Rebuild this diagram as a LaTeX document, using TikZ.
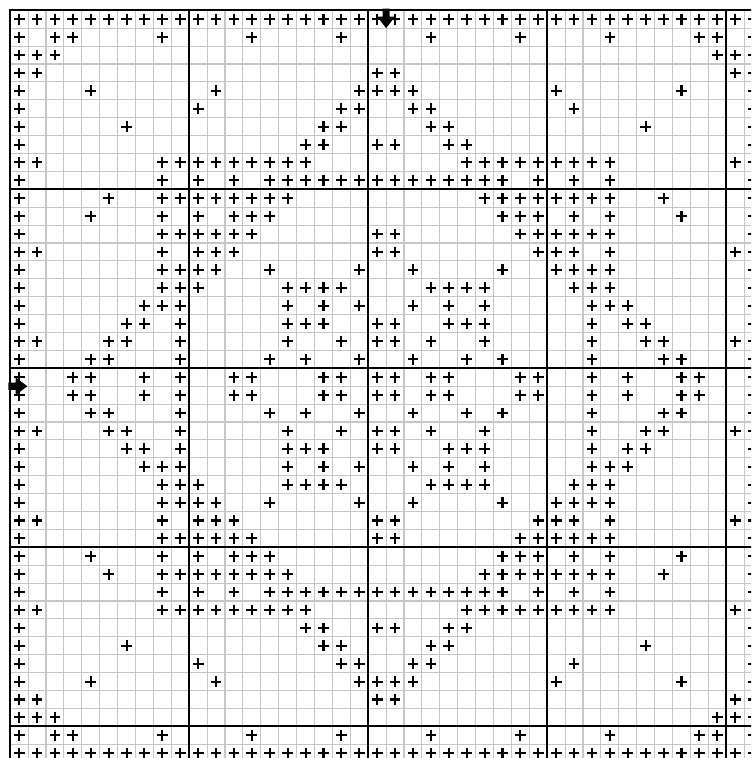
\documentclass[tikz,border=0pt]{standalone}
\usepackage{tikz}

\tikzset{
  minorline/.style={draw=black!22, line width=1.7pt},
  majorline/.style={draw=black, line width=3.2pt, line cap=rect},
  stitchmark/.style={draw=black, line width=3.3pt},
  centremark/.style={fill=black},
}
% one cross in square (column #1, row #2)
\newcommand{\onestitch}[2]{%
  \draw[stitchmark] (#1+0.2,#2+0.5) -- ++(0.6,0) (#1+0.5,#2+0.2) -- ++(0,0.6);}
% the chart is symmetric: every cross comes four times
\newcommand{\stitch}[2]{%
  \onestitch{#1}{#2}\onestitch{41-#1}{#2}%
  \onestitch{#1}{41-#2}\onestitch{41-#1}{41-#2}}

\begin{document}
\begin{tikzpicture}[x=1cm,y=-1cm]
\useasboundingbox (-0.57,-0.575) rectangle (41.39,41.77);
\clip (-0.57,-0.575) rectangle (41.39,41.77);
\fill[white] (-0.57,-0.575) rectangle (41.39,41.77);
% fine grid
\foreach \i in {1,...,41} {
  \draw[minorline] (\i,0) -- (\i,42);
  \draw[minorline] (0,\i) -- (42,\i);
}
% heavy lines every ten squares
\foreach \i in {0,10,20,30,40} {
  \draw[majorline] (\i,0) -- (\i,42);
  \draw[majorline] (0,\i) -- (42,\i);
}
% upper left quarter, row by row
\foreach \c in {0,...,20} \stitch{\c}{0};
\foreach \c in {0,2,3,8,13,18} \stitch{\c}{1};
\foreach \c in {0,1,2} \stitch{\c}{2};
\foreach \c in {0,1,20} \stitch{\c}{3};
\foreach \c in {0,4,11,19,20} \stitch{\c}{4};
\foreach \c in {0,10,18,19} \stitch{\c}{5};
\foreach \c in {0,6,17,18} \stitch{\c}{6};
\foreach \c in {0,16,17,20} \stitch{\c}{7};
\foreach \c in {0,1,8,9,...,16} \stitch{\c}{8};
\foreach \c in {0,8,10,12,14,15,...,20} \stitch{\c}{9};
\foreach \c in {0,5,8,9,...,15} \stitch{\c}{10};
\foreach \c in {0,4,8,10,12,13,14} \stitch{\c}{11};
\foreach \c in {0,8,9,...,13,20} \stitch{\c}{12};
\foreach \c in {0,1,8,10,11,12,20} \stitch{\c}{13};
\foreach \c in {0,8,9,10,11,14,19} \stitch{\c}{14};
\foreach \c in {0,8,9,10,15,16,17,18} \stitch{\c}{15};
\foreach \c in {0,7,8,9,15,17,19} \stitch{\c}{16};
\foreach \c in {0,6,7,9,15,16,17,20} \stitch{\c}{17};
\foreach \c in {0,1,5,6,9,15,18,20} \stitch{\c}{18};
\foreach \c in {0,4,5,9,14,16,19} \stitch{\c}{19};
\foreach \c in {0,3,4,7,9,12,13,17,18,20} \stitch{\c}{20};
% centre arrows
\fill[centremark] (20.8,-0.1) -- (21.2,-0.1) -- (21.2,0.35) -- (21.5,0.35)
  -- (21,1.0) -- (20.5,0.35) -- (20.8,0.35) -- cycle;
\fill[centremark] (-0.1,20.8) -- (-0.1,21.2) -- (0.3,21.2) -- (0.3,21.5)
  -- (0.95,21) -- (0.3,20.5) -- (0.3,20.8) -- cycle;
\end{tikzpicture}
\end{document}
